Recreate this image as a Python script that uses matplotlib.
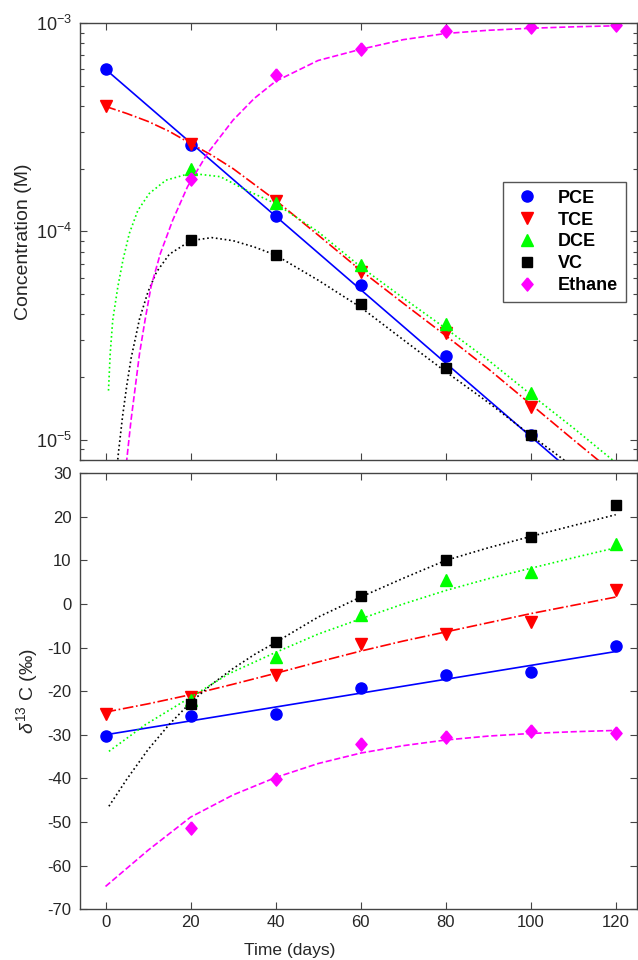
import matplotlib
matplotlib.use("Agg")
import matplotlib.pyplot as plt
import numpy as np
from matplotlib.lines import Line2D

plt.rcParams["font.family"] = ["Liberation Sans", "DejaVu Sans"]
plt.rcParams["mathtext.fontset"] = "custom"
plt.rcParams["mathtext.rm"] = "Liberation Sans"
plt.rcParams["mathtext.it"] = "Liberation Sans:italic"
plt.rcParams["axes.unicode_minus"] = False

# sampling days
days = [0, 20, 40, 60, 80, 100, 120]
species = ["PCE", "TCE", "DCE", "VC", "Ethane"]

# measured concentrations (M); nan = not on the plot
conc_pce = [6.0e-4, 2.6e-4, 1.18e-4, 5.5e-5, 2.52e-5, 1.05e-5, np.nan]
conc_tce = [4.0e-4, 2.62e-4, 1.40e-4, 6.4e-5, 3.26e-5, 1.44e-5, np.nan]
conc_dce = [np.nan, 2.0e-4, 1.37e-4, 6.9e-5, 3.61e-5, 1.67e-5, np.nan]
conc_vc = [np.nan, 9.1e-5, 7.7e-5, 4.47e-5, 2.2e-5, 1.05e-5, np.nan]
conc_eth = [np.nan, 1.79e-4, 5.6e-4, 7.5e-4, 9.2e-4, 9.6e-4, 9.75e-4]

# model curves, concentration
fit_pce_t = [0, 120]
fit_pce = [6.0e-4, 4.6e-6]
fit_tce_t = [0, 5, 10, 15, 20, 25, 30, 35, 40, 50, 60, 70, 80, 90, 100, 110, 120]
fit_tce = [3.98e-4, 3.68e-4, 3.37e-4, 3.02e-4, 2.64e-4, 2.32e-4, 2.00e-4, 1.68e-4,
           1.41e-4, 9.6e-5, 6.5e-5, 4.52e-5, 3.16e-5, 2.19e-5, 1.48e-5, 1.0e-5, 6.8e-6]
fit_dce_t = [0.7, 1.1, 1.7, 2.9, 4.1, 5.6, 7.6, 10.3, 14.2, 20, 27, 33, 40, 50, 60,
             70, 80, 90, 100, 110, 120]
fit_dce = [1.72e-5, 2.59e-5, 3.75e-5, 5.42e-5, 7.28e-5, 9.77e-5, 1.26e-4, 1.52e-4,
           1.76e-4, 1.90e-4, 1.83e-4, 1.58e-4, 1.36e-4, 9.95e-5, 6.76e-5, 4.79e-5,
           3.42e-5, 2.41e-5, 1.65e-5, 1.14e-5, 7.76e-6]
fit_vc_t = [2.5, 3, 4, 5, 6, 8, 10, 12, 15, 20, 25, 30, 35, 40, 50, 60, 70, 80, 90,
            100, 110, 120]
fit_vc = [6.61e-6, 8.51e-6, 1.29e-5, 1.82e-5, 2.45e-5, 3.80e-5, 5.13e-5, 6.38e-5,
          7.76e-5, 9.02e-5, 9.33e-5, 9.02e-5, 8.41e-5, 7.69e-5, 5.83e-5, 4.32e-5,
          3.02e-5, 2.12e-5, 1.51e-5, 1.05e-5, 7.41e-6, 5.25e-6]
fit_eth_t = [4.5, 5, 6, 7, 8, 9.3, 10.7, 12.9, 15.8, 19.3, 24, 30, 35, 40, 50, 60, 70,
             80, 90, 100, 110, 120]
fit_eth = [6.31e-6, 8.02e-6, 1.24e-5, 1.79e-5, 2.59e-5, 3.75e-5, 5.42e-5, 7.83e-5,
           1.13e-4, 1.64e-4, 2.37e-4, 3.42e-4, 4.35e-4, 5.25e-4, 6.61e-4, 7.48e-4,
           8.32e-4, 8.91e-4, 9.23e-4, 9.44e-4, 9.59e-4, 9.70e-4]

# measured delta13C (permil)
d13_pce = [-30.2, -25.6, -25.3, -19.3, -16.2, -15.6, -9.7]
d13_tce = [-25.2, -21.3, -16.2, -9.1, -6.8, -4.2, 3.3]
d13_dce = [np.nan, -22.0, -12.2, -2.6, 5.5, 7.3, 13.8]
d13_vc = [np.nan, -22.9, -8.7, 1.9, 10.0, 15.3, 22.7]
d13_eth = [np.nan, -51.3, -40.2, -32.1, -30.4, -29.2, -29.5]

# delta13C model curves
d13fit_pce_t = [0, 120]
d13fit_pce = [-30.0, -10.9]
d13fit_tce_t = [0, 10, 20, 30, 40, 50, 60, 70, 80, 90, 100, 110, 120]
d13fit_tce = [-24.8, -22.9, -20.8, -18.4, -15.9, -13.3, -10.8, -8.5, -6.4, -4.3, -2.2, -0.3, 1.6]
d13fit_dce_t = [0.8, 9.5, 20, 29, 40, 50, 60, 70, 80, 90, 100, 110, 120]
d13fit_dce = [-33.8, -27.6, -21.4, -16.0, -11.1, -6.9, -3.4, 0.0, 3.1, 5.8, 8.2, 10.6, 12.9]
d13fit_vc_t = [0.8, 5, 10, 15, 20, 25, 30, 35, 40, 50, 60, 70, 80, 90, 100, 110, 120]
d13fit_vc = [-46.4, -40.2, -33.4, -27.6, -22.6, -18.4, -14.8, -11.6, -8.8, -3.0, 1.6,
             5.9, 10.0, 12.9, 15.5, 18.0, 20.5]
d13fit_eth_t = [0, 10, 20, 30, 40, 50, 60, 70, 80, 90, 100, 110, 120]
d13fit_eth = [-64.8, -56.5, -48.9, -43.8, -39.8, -36.6, -34.2, -32.5, -31.2, -30.3, -29.7, -29.3, -29.0]

# matlab-style diamond (a bit taller than wide)
diamond = [(0, 1), (0.85, 0), (0, -1), (-0.85, 0), (0, 1)]

colors = ["#0000ff", "#ff0000", "#00ff00", "#000000", "#ff00ff"]
markers = ["o", "v", "^", "s", diamond]
msizes = [8, 8.5, 8.5, 6.5, 9.5]
lstyles = ["-", "-.", ":", ":", "--"]

conc_data = [conc_pce, conc_tce, conc_dce, conc_vc, conc_eth]
conc_fits = [(fit_pce_t, fit_pce), (fit_tce_t, fit_tce), (fit_dce_t, fit_dce),
             (fit_vc_t, fit_vc), (fit_eth_t, fit_eth)]
d13_data = [d13_pce, d13_tce, d13_dce, d13_vc, d13_eth]
d13_fits = [(d13fit_pce_t, d13fit_pce), (d13fit_tce_t, d13fit_tce), (d13fit_dce_t, d13fit_dce),
            (d13fit_vc_t, d13fit_vc), (d13fit_eth_t, d13fit_eth)]

axis_col = "#444444"
text_col = "#262626"

fig = plt.figure(figsize=(6.38, 9.6), dpi=100)
ax1 = fig.add_axes([0.1254, 0.521, 0.8730, 0.455])
ax2 = fig.add_axes([0.1254, 0.053, 0.8730, 0.454])

for i in range(len(species)):
    ft, fv = conc_fits[i]
    ax1.plot(ft, fv, color=colors[i], linestyle=lstyles[i], linewidth=1.2)
    ax1.plot(days, conc_data[i], linestyle="none", marker=markers[i], markersize=msizes[i],
             color=colors[i], markeredgecolor=colors[i])
    gt, gv = d13_fits[i]
    ax2.plot(gt, gv, color=colors[i], linestyle=lstyles[i], linewidth=1.2)
    ax2.plot(days, d13_data[i], linestyle="none", marker=markers[i], markersize=msizes[i],
             color=colors[i], markeredgecolor=colors[i])

ax1.set_yscale("log")
ax1.set_ylim(8e-6, 1e-3)
ax2.set_ylim(-70, 30)
ax2.set_yticks(np.arange(-70, 31, 10))
for ax in (ax1, ax2):
    ax.set_xlim(-6, 125)
    ax.set_xticks(days)
    ax.tick_params(which="both", direction="in", top=True, right=True, colors=axis_col,
                   labelcolor=text_col, labelsize=12, width=0.8)
    ax.tick_params(which="major", length=5)
    ax.tick_params(which="minor", length=3)
    ax.tick_params(axis="y", pad=6)
    ax.tick_params(axis="x", pad=4)
    for s in ax.spines.values():
        s.set_color(axis_col)
        s.set_linewidth(1.0)
ax1.tick_params(axis="x", labelbottom=False)
ax1.tick_params(axis="y", which="major", labelsize=13)

ax1.set_ylabel("Concentration (M)", fontsize=14, color=text_col)
ax1.yaxis.set_label_coords(-0.086, 0.5)
ax2.set_ylabel(r"$\delta^{13}$ C (‰)", fontsize=14, color=text_col)
ax2.yaxis.set_label_coords(-0.072, 0.5)
ax2.set_xlabel("Time (days)", fontsize=12.5, color=text_col)
ax2.xaxis.set_label_coords(0.377, -0.078)

handles = [Line2D([], [], linestyle="none", marker=markers[i], markersize=msizes[i],
                  color=colors[i]) for i in range(len(species))]
leg = ax1.legend(handles, species, loc="upper right", bbox_to_anchor=(0.981, 0.637),
                 borderaxespad=0, frameon=True, fancybox=False, edgecolor="#555555",
                 framealpha=1, prop={"weight": "bold", "size": 13}, handletextpad=0.8,
                 borderpad=0.45, labelspacing=0.27, handlelength=1.8)
leg.get_frame().set_linewidth(1.0)

fig.savefig("out.png", dpi=100)
